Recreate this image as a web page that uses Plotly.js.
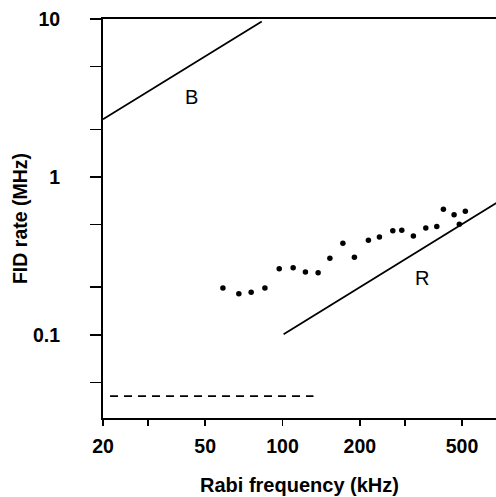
<!DOCTYPE html>
<html>
<head>
<meta charset="utf-8">
<script src="https://cdn.plot.ly/plotly-3.0.1.min.js"></script>
<style>html,body{margin:0;padding:0;background:#fff;}#chart{width:496px;height:497px;}</style>
</head>
<body>
<div id="chart"></div>
<script>
// Measured FID rate points
var dataRabi = [58.6, 67.6, 75.5, 85.4, 97.1, 110, 122.8, 137.6, 152.9, 171.8, 190.5, 216, 238.4, 268.8, 291.3, 323.2, 361.3, 398.7, 423, 465.6, 488, 515];
var dataFid  = [0.198, 0.182, 0.186, 0.198, 0.262, 0.266, 0.250, 0.248, 0.306, 0.381, 0.310, 0.398, 0.417, 0.457, 0.460, 0.423, 0.476, 0.485, 0.625, 0.577, 0.502, 0.607];

// Line B
var lineBX = [20, 83];
var lineBY = [2.32, 9.65];
// Line R
var lineRX = [101, 680];
var lineRY = [0.101, 0.685];
// Dashed baseline
var dashX = [21.3, 132];
var dashY = [0.041, 0.041];

var xTickVals = [20, 30, 50, 100, 200, 300, 500];
var xTickText = ["20", "", "50", "100", "200", "", "500"];
var yTickVals = [10, 5, 2, 1, 0.5, 0.2, 0.1, 0.05];
var yTickText = ["10", "", "", "1", "", "", "0.1", ""];

var labelText = ["B", "R"];
var labelX = [44.4, 348.5];
var labelY = [3.19, 0.2305];

var traces = [
  {x: lineBX, y: lineBY, mode: "lines", line: {color: "#000", width: 1.8}, hoverinfo: "skip"},
  {x: lineRX, y: lineRY, mode: "lines", line: {color: "#000", width: 1.8}, hoverinfo: "skip"},
  {x: dashX, y: dashY, mode: "lines", line: {color: "#000", width: 1.6, dash: "8px,6px"}, hoverinfo: "skip"},
  {x: dataRabi, y: dataFid, mode: "markers", marker: {color: "#000", size: 5.5}}
];

var annotations = labelText.map(function(t, i) {
  return {x: Math.log10(labelX[i]), y: Math.log10(labelY[i]), xref: "x", yref: "y",
          text: t, showarrow: false, font: {family: "Liberation Sans, Arial, sans-serif", size: 20, color: "#000"}};
});

var layout = {
  width: 496, height: 497,
  margin: {l: 103, r: 0, t: 19, b: 79},
  paper_bgcolor: "#fff", plot_bgcolor: "#fff",
  showlegend: false,
  font: {family: "Liberation Sans, Arial, sans-serif", color: "#000"},
  xaxis: {
    type: "log", range: [Math.log10(20), Math.log10(678)],
    tickvals: xTickVals, ticktext: xTickText,
    ticks: "outside", ticklen: 6, tickwidth: 1.8, tickcolor: "#000",
    showline: true, linewidth: 2, linecolor: "#000", mirror: true,
    showgrid: false, zeroline: false,
    tickfont: {size: 19.5, family: "Liberation Sans, Arial, sans-serif", weight: "bold"},
    ticklabelstandoff: 4,
    title: {text: "<b>Rabi frequency (kHz)</b>", font: {size: 20}, standoff: 22}
  },
  yaxis: {
    type: "log", range: [Math.log10(0.0298), 1],
    tickvals: yTickVals, ticktext: yTickText,
    ticks: "outside", ticklen: 11, tickwidth: 1.8, tickcolor: "#000",
    showline: true, linewidth: 2, linecolor: "#000", mirror: false,
    showgrid: false, zeroline: false,
    tickfont: {size: 19.5, family: "Liberation Sans, Arial, sans-serif", weight: "bold"},
    ticklabelstandoff: 26,
    title: {text: "<b>FID rate (MHz)</b>", font: {size: 19.5}, standoff: 0}
  },
  annotations: annotations
};

Plotly.newPlot("chart", traces, layout, {displayModeBar: false, staticPlot: true});
</script>
</body>
</html>
